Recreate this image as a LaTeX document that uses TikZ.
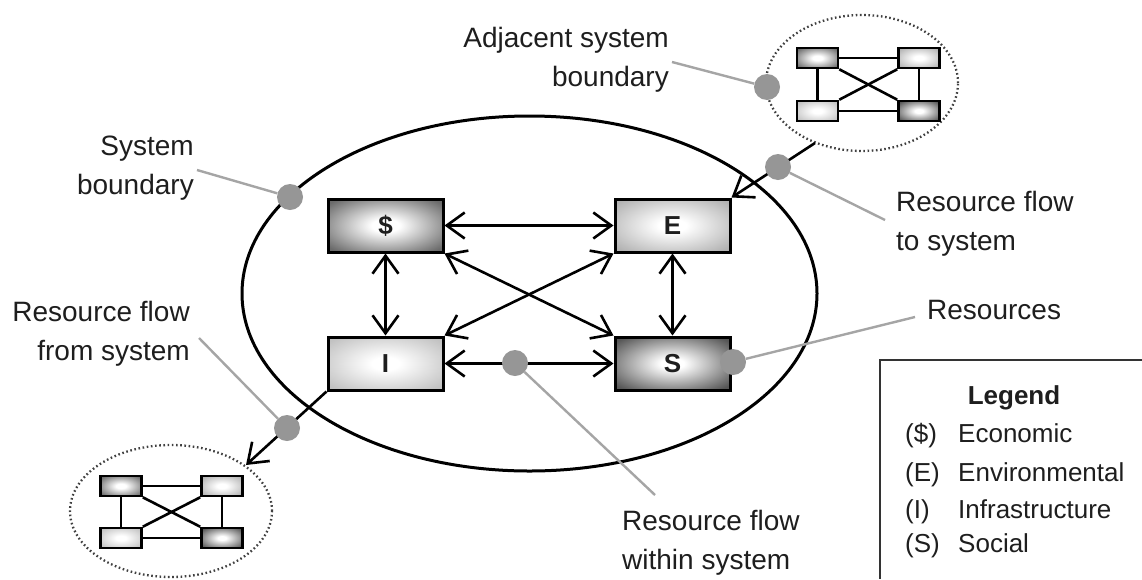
\documentclass[tikz,border=0pt]{standalone}
\usepackage{fontspec}
\setmainfont{Liberation Sans}
\usetikzlibrary{arrows.meta,shapes.geometric}
\definecolor{dotgray}{RGB}{150,150,150}
\definecolor{leadgray}{RGB}{165,165,165}
\definecolor{txt}{RGB}{30,30,30}
\pgfdeclareradialshading{shDark}{\pgfpointorigin}{color(0bp)=(white); color(6bp)=(white); color(32bp)=(black!58); color(50bp)=(black!64)}
\pgfdeclareradialshading{shDarker}{\pgfpointorigin}{color(0bp)=(white); color(5bp)=(white); color(32bp)=(black!66); color(50bp)=(black!72)}
\pgfdeclareradialshading{shLight}{\pgfpointorigin}{color(0bp)=(white); color(6bp)=(white); color(32bp)=(black!30); color(50bp)=(black!34)}
\pgfdeclareradialshading{shLighter}{\pgfpointorigin}{color(0bp)=(white); color(6bp)=(white); color(32bp)=(black!24); color(50bp)=(black!27)}
\tikzset{
 mainbox/.style={draw=black, line width=3pt, minimum width=115pt, minimum height=53pt, inner sep=0pt, font=\fontsize{26}{26}\selectfont\bfseries, text=txt},
 smallbox/.style={draw=black, line width=2.6pt, minimum width=41pt, minimum height=20pt, inner sep=0pt},
 gdot/.style={circle, fill=dotgray, minimum size=26pt, inner sep=0pt},
 leadline/.style={draw=leadgray, line width=2.4pt},
 flowarrow/.style={line width=2.6pt, -{Straight Barb[length=18pt,width=26pt]}},
 biarrow/.style={line width=2.6pt, {Straight Barb[length=18pt,width=26pt]}-{Straight Barb[length=18pt,width=26pt]}},
 lbl/.style={font=\fontsize{28}{39}\selectfont, text=txt, inner sep=0pt},
 legtxt/.style={font=\fontsize{26}{30}\selectfont, text=txt, inner sep=0pt, anchor=base west},
 adjell/.style={draw=black!75, line width=2.3pt, dash pattern=on 1.6pt off 2.6pt, ellipse, inner sep=0pt},
 netline/.style={line width=2.6pt}
}
\begin{document}
\begin{tikzpicture}[x=1pt,y=-1pt]
\useasboundingbox (0,0) rectangle (1142,579);
\fill[white] (0,0) rectangle (1142,579);

% system boundary
\node[draw, line width=3pt, ellipse, minimum width=575pt, minimum height=355pt, inner sep=0pt] (sys) at (529.5,293.5) {};

% adjacent systems
\node[adjell, minimum width=192pt, minimum height=136pt] (adjT) at (862,83) {};
\node[adjell, minimum width=202pt, minimum height=132pt] (adjB) at (171,511) {};

% main boxes
\node[mainbox, shading=shDark] (D) at (385.5,225.5) {\$};
\node[mainbox, shading=shLight] (E) at (672.5,225.5) {E};
\node[mainbox, shading=shLighter] (I) at (385.5,363.5) {I};
\node[mainbox, shading=shDarker] (S) at (672.5,363.5) {S};

% small network top
\node[smallbox, shading=shDark] (tTL) at (817.5,58) {};
\node[smallbox, shading=shLight] (tTR) at (919,58) {};
\node[smallbox, shading=shLighter] (tBL) at (817.5,111) {};
\node[smallbox, shading=shDarker] (tBR) at (919,111) {};
\draw[netline] (tTL) -- (tTR);
\draw[netline] (tBL) -- (tBR);
\draw[netline] (tTL) -- (tBL);
\draw[netline] (tTR) -- (tBR);
\draw[netline] (tTL.south east) -- (tBR.north west);
\draw[netline] (tTR.south west) -- (tBL.north east);

% small network bottom
\node[smallbox, shading=shDark] (bTL) at (121,486) {};
\node[smallbox, shading=shLight] (bTR) at (222,486) {};
\node[smallbox, shading=shLighter] (bBL) at (121,538) {};
\node[smallbox, shading=shDarker] (bBR) at (222,538) {};
\draw[netline] (bTL) -- (bTR);
\draw[netline] (bBL) -- (bBR);
\draw[netline] (bTL) -- (bBL);
\draw[netline] (bTR) -- (bBR);
\draw[netline] (bTL.south east) -- (bBR.north west);
\draw[netline] (bTR.south west) -- (bBL.north east);

% internal flows
\draw[biarrow] (D) -- (E);
\draw[biarrow] (D) -- (I);
\draw[biarrow] (E) -- (S);
\draw[biarrow] (I) -- (S);
\draw[biarrow] (D.south east) -- (S.north west);
\draw[biarrow] (E.south west) -- (I.north east);

% external flows
\coordinate (aT) at (815,143);
\coordinate (aB) at (246,465);
\draw[flowarrow] (aT) -- (E.north east);
\draw[flowarrow] (I.south west) -- (aB);

% dots
\node[gdot] (dSB) at (290,197) {};
\node[gdot] (dRF) at (287,428) {};
\node[gdot] (dAS) at (767,87) {};
\node[gdot] (dRT) at (778,167) {};
\node[gdot] (dRS) at (733,362) {};
\node[gdot] (dRW) at (515,363) {};

% labels
\node[lbl, align=right, anchor=east] (tSB) at (194,168) {System\\boundary};
\node[lbl, align=right, anchor=east] (tRF) at (190,334) {Resource flow\\from system};
\node[lbl, align=right, anchor=east] (tAS) at (669,60) {Adjacent system\\boundary};
\node[lbl, align=left, anchor=west] (tRT) at (896,224) {Resource flow\\to system};
\node[lbl, anchor=west] (tRS) at (927,310) {Resources};
\node[lbl, align=left, anchor=west] (tRW) at (622,543) {Resource flow\\within system};

% leader lines
\coordinate (cSB) at (197,170);
\coordinate (cRF) at (199,338);
\coordinate (cAS) at (672,62);
\coordinate (cRT) at (885,220);
\coordinate (cRS) at (915,317);
\coordinate (cRW) at (655,495);
\draw[leadline] (cSB) -- (dSB);
\draw[leadline] (cRF) -- (dRF);
\draw[leadline] (cAS) -- (dAS);
\draw[leadline] (cRT) -- (dRT);
\draw[leadline] (cRS) -- (dRS);
\draw[leadline] (cRW) -- (dRW);

% legend
\draw[line width=2.8pt, draw=black!80] (1142,360) -- (880,360) -- (880,579);
\node[font=\fontsize{26}{30}\selectfont\bfseries, text=txt, inner sep=0pt] (lgT) at (1014,398) {Legend};
\node[legtxt] (l1a) at (905,442) {(\$)};
\node[legtxt] (l1b) at (958,442) {Economic};
\node[legtxt] (l2a) at (905,481) {(E)};
\node[legtxt] (l2b) at (958,481) {Environmental};
\node[legtxt] (l3a) at (905,518) {(I)};
\node[legtxt] (l3b) at (958,518) {Infrastructure};
\node[legtxt] (l4a) at (905,552) {(S)};
\node[legtxt] (l4b) at (958,552) {Social};
\end{tikzpicture}
\end{document}
